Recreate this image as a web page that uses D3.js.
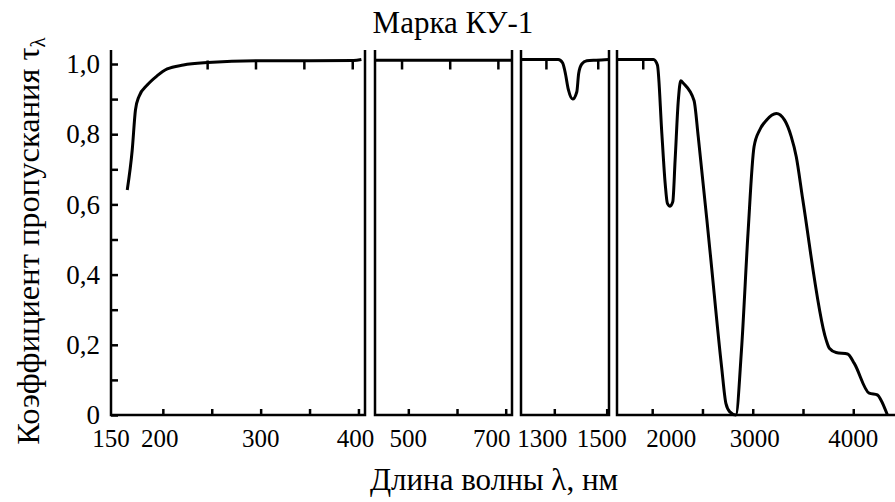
<!DOCTYPE html>
<html>
<head>
<meta charset="utf-8">
<script src="https://cdn.jsdelivr.net/npm/d3@7"></script>
<style>
  body { margin: 0; background: #fff; }
  svg text { font-family: "Liberation Serif", "DejaVu Serif", serif; fill: #000; }
</style>
</head>
<body>
<div id="viz"></div>
<script>
// transmission of KU-1 quartz, one array pair per axis segment
const uvWave = [163.6, 168.7, 172, 175.5, 184, 194, 204.5, 221, 246, 296, 350, 395, 403];
const uvTau = [0.641, 0.755, 0.869, 0.907, 0.940, 0.966, 0.986, 0.997, 1.004, 1.009, 1.009, 1.010, 1.013];

const visWave = [432, 600, 712];
const visTau = [1.011, 1.011, 1.011];

const nirWave = [1173, 1250, 1315, 1332, 1341, 1354, 1370, 1386, 1393, 1405, 1424, 1460, 1508];
const nirTau = [1.013, 1.013, 1.013, 1.003, 0.978, 0.926, 0.900, 0.921, 0.973, 1.0, 1.009, 1.011, 1.013];

const irWave = [1650, 1900, 2013, 2052, 2096, 2129, 2151, 2178, 2205, 2228, 2260, 2284, 2310, 2416, 2458,
  2574, 2690, 2733, 2772, 2832, 2888, 2953, 3013, 3069, 3136, 3235, 3317, 3383, 3433, 3498,
  3730, 3762, 3829, 3944, 4010, 4158, 4241, 4275, 4340];
const irTau = [1.013, 1.013, 1.013, 0.997, 0.802, 0.660, 0.603, 0.595, 0.608, 0.726, 0.897, 0.952, 0.945, 0.896, 0.793,
  0.470, 0.138, 0.033, 0.009, 0, 0.185, 0.518, 0.764, 0.812, 0.840, 0.859, 0.840, 0.793, 0.736, 0.613,
  0.214, 0.190, 0.178, 0.174, 0.147, 0.062, 0.057, 0.043, 0];

const xTicks = [[200, 250, 300, 350, 400], [500, 600, 700], [1300, 1500], [2000, 2500, 3000, 3500, 4000]];
const xLabels = [[150, 200, 300, 400], [500, 700], [1300, 1500], [2000, 3000, 4000]];
const yTicks = [0, 0.1, 0.2, 0.3, 0.4, 0.5, 0.6, 0.7, 0.8, 0.9, 1.0];
const yLabels = [0, 0.2, 0.4, 0.6, 0.8, 1.0];

const width = 895;
const height = 502;

// label nudges, the original moves some labels off their tick to keep them apart
const labelShift = { 150: -3, 200: -3, 400: -3, 700: -14, 1300: -12, 1500: -5, 2000: 19, 3000: 2 };

const panels = [
  { wave: uvWave, tau: uvTau, domain: [147, 406.7], range: [111, 365], rightEdge: true },
  { wave: visWave, tau: visTau, domain: [431.6, 712.9], range: [375, 512], rightEdge: true },
  { wave: nirWave, tau: nirTau, domain: [1172.9, 1508.8], range: [521, 609], rightEdge: true },
  { wave: irWave, tau: irTau, domain: [1650, 4415], range: [617, 895], rightEdge: false },
];

const svg = d3.select('#viz')
  .append('svg')
  .attr('width', width)
  .attr('height', height);

const y = d3.scaleLinear().domain([0, 1]).range([415, 64]);
const yTop = y(1.04);

const fmt = d => (d === 0 ? '0' : d3.format('.1f')(d).replace('.', ','));

// y axis
const yAxis = svg.append('g')
  .attr('transform', 'translate(111,0)')
  .call(d3.axisLeft(y)
    .tickValues(yTicks)
    .tickSizeInner(-7)
    .tickSizeOuter(0)
    .tickPadding(11)
    .tickFormat(d => (yLabels.some(v => Math.abs(v - d) < 1e-9) ? fmt(d) : '')));
yAxis.attr('font-family', null).attr('font-size', null);
yAxis.select('.domain').remove();
yAxis.selectAll('line').attr('stroke', '#000').attr('stroke-width', 2.5);
yAxis.selectAll('text').attr('font-size', 27);

const line = d3.line().curve(d3.curveMonotoneX);

panels.forEach((p, i) => {
  const x = d3.scaleLinear().domain(p.domain).range(p.range);
  const tauAt = w => {
    const k = d3.bisectLeft(p.wave, w);
    if (k <= 0 || k >= p.wave.length) return 0;
    const t = (w - p.wave[k - 1]) / (p.wave[k] - p.wave[k - 1]);
    return p.tau[k - 1] + t * (p.tau[k] - p.tau[k - 1]);
  };

  // bottom ticks
  const ax = svg.append('g')
    .attr('transform', `translate(0,${y(0)})`)
    .call(d3.axisBottom(x)
      .tickValues(xTicks[i])
      .tickSizeInner(-6)
      .tickSizeOuter(0)
      .tickFormat(''));
  ax.select('.domain').remove();
  ax.selectAll('line').attr('stroke', '#000').attr('stroke-width', 2.5);

  // ticks hanging from the curve where it sits on the top line (slightly sheared like the scan)
  svg.append('g')
    .selectAll('line')
    .data(xTicks[i].filter(d => tauAt(d) > 0.99))
    .enter()
    .append('line')
    .attr('x1', d => x(d) - 3 - 0.011 * (x(d) - 111))
    .attr('x2', d => x(d) - 3 - 0.011 * (x(d) - 111))
    .attr('y1', y(1.01))
    .attr('y2', y(1.01) + 9)
    .attr('stroke', '#000')
    .attr('stroke-width', 2.5);

  // frame
  const [r0, r1] = p.range;
  const frame = p.rightEdge
    ? `M${r0},${yTop}V${y(0)}H${r1}V${yTop}`
    : `M${r0},${yTop}V${y(0)}H${r1}`;
  svg.append('path')
    .attr('d', frame)
    .attr('fill', 'none')
    .attr('stroke', '#000')
    .attr('stroke-width', 2.5);

  // labels
  svg.append('g')
    .selectAll('text')
    .data(xLabels[i])
    .enter()
    .append('text')
    .attr('x', d => x(d) + (labelShift[d] || 0))
    .attr('y', 447)
    .attr('text-anchor', 'middle')
    .attr('font-size', 25)
    .text(d => d);

  // curve
  svg.append('path')
    .datum(p.wave.map((w, k) => [x(w), y(p.tau[k])]))
    .attr('d', line)
    .attr('fill', 'none')
    .attr('stroke', '#000')
    .attr('stroke-width', 3)
    .attr('stroke-linejoin', 'round');
});

svg.append('text')
  .attr('x', 453)
  .attr('y', 33)
  .attr('text-anchor', 'middle')
  .attr('font-size', 31)
  .text('Марка КУ-1');

svg.append('text')
  .attr('x', 494)
  .attr('y', 490)
  .attr('text-anchor', 'middle')
  .attr('font-size', 31)
  .text('Длина волны λ, нм');

const yLabel = svg.append('text')
  .attr('transform', 'translate(39,241) rotate(-90)')
  .attr('text-anchor', 'middle')
  .attr('font-size', 32.5);
yLabel.append('tspan').text('Коэффициент пропускания τ');
yLabel.append('tspan')
  .attr('font-size', 21)
  .attr('dy', 6)
  .text('λ');
</script>
</body>
</html>
